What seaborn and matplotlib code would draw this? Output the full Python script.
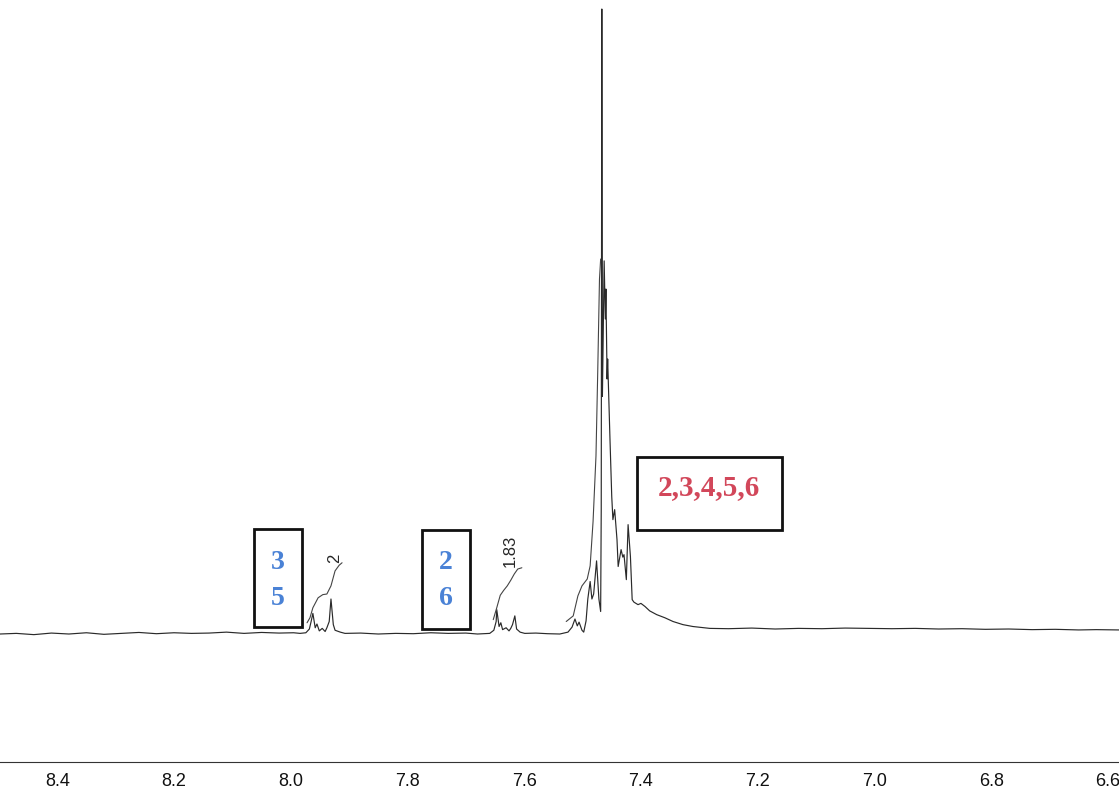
import matplotlib.pyplot as plt
import matplotlib.patches as patches
import seaborn as sns
import pandas as pd

# 1H NMR trace (ppm, relative intensity, tallest line = 100)
ppm = [8.498, 8.47, 8.44, 8.41, 8.38, 8.35, 8.32, 8.29, 8.26, 8.23, 8.20, 8.17,
       8.14, 8.11, 8.08, 8.05, 8.02, 7.995, 7.984, 7.974, 7.968, 7.965, 7.962,
       7.958, 7.955, 7.951, 7.946, 7.941, 7.938, 7.934, 7.931, 7.927, 7.924,
       7.915, 7.907, 7.88, 7.85, 7.82, 7.79, 7.76, 7.73, 7.70, 7.68, 7.659,
       7.652, 7.648, 7.647, 7.643, 7.640, 7.637, 7.631, 7.626, 7.623, 7.620,
       7.616, 7.613, 7.607, 7.599, 7.58, 7.56, 7.539, 7.525, 7.518, 7.513,
       7.509, 7.506, 7.501, 7.498, 7.494, 7.491, 7.487, 7.484, 7.481, 7.476,
       7.472, 7.469, 7.468, 7.467, 7.466, 7.465, 7.463, 7.461, 7.460, 7.458,
       7.457, 7.453, 7.450, 7.448, 7.445, 7.441, 7.439, 7.434, 7.431, 7.429,
       7.425, 7.422, 7.418, 7.415, 7.412, 7.405, 7.400, 7.393, 7.385, 7.373,
       7.359, 7.345, 7.328, 7.311, 7.282, 7.25, 7.21, 7.17, 7.13, 7.09, 7.05,
       7.01, 6.97, 6.93, 6.89, 6.85, 6.81, 6.77, 6.73, 6.69, 6.65, 6.62, 6.581]
intensity = [0.0, 0.1, -0.1, 0.15, 0.0, 0.2, -0.05, 0.1, 0.25, 0.05, 0.2, 0.1,
             0.15, 0.3, 0.1, 0.25, 0.15, 0.2, 0.1, 0.2, 0.8, 2.0, 3.3,
             1.0, 1.6, 0.5, 0.9, 0.4, 1.0, 2.0, 5.6, 1.5, 0.6,
             0.3, 0.1, 0.15, 0.0, 0.1, 0.05, 0.2, 0.1, 0.15, 0.0, 0.1,
             0.6, 2.0, 3.9, 1.2, 1.8, 0.7, 1.0, 0.5, 0.9, 1.5,
             2.9, 0.8, 0.3, 0.1, 0.15, 0.05, 0.0, 0.3, 1.1, 2.4,
             1.3, 1.9, 0.6, 0.3, 2.1, 5.6, 8.4, 5.6, 6.4, 11.7,
             5.6, 3.6, 20.0, 100.0, 38.0, 45.0, 59.7, 50.4, 55.2, 40.8,
             44.0, 31.1, 22.0, 18.3, 19.9, 15.1, 10.8, 13.5, 12.3, 12.7,
             8.7, 17.5, 12.4, 5.5, 5.1, 4.7, 4.9, 4.4, 3.7, 3.1,
             2.6, 2.0, 1.5, 1.2, 0.9, 0.85, 0.95, 0.8, 0.9, 0.85, 0.95,
             0.9, 0.85, 0.9, 0.8, 0.85, 0.75, 0.8, 0.7, 0.75, 0.65, 0.7, 0.65]

# integral curves
int1_ppm = [7.972, 7.967, 7.962, 7.953, 7.945, 7.938, 7.931, 7.924, 7.917, 7.912]
int1_val = [1.8, 2.6, 4.2, 5.8, 6.3, 6.4, 7.7, 10.1, 11.0, 11.4]
int2_ppm = [7.653, 7.647, 7.641, 7.635, 7.629, 7.623, 7.617, 7.611, 7.604]
int2_val = [2.3, 4.2, 6.2, 7.0, 7.7, 8.6, 9.6, 10.4, 10.6]
int3_ppm = [7.528, 7.516, 7.508, 7.501, 7.492, 7.487, 7.482, 7.477, 7.474, 7.471, 7.469]
int3_val = [2.0, 2.9, 6.1, 7.7, 8.8, 10.9, 18.0, 28.5, 42.0, 56.8, 60.0]

int_labels = ['2', '1.83']
box_labels = ['3\n5', '2\n6', '2,3,4,5,6']
ticks = [8.4, 8.2, 8.0, 7.8, 7.6, 7.4, 7.2, 7.0, 6.8, 6.6]

spec = pd.DataFrame({'ppm': ppm, 'intensity': intensity})

sns.set_style('white')
fig = plt.figure(figsize=(11.19, 8.03), dpi=100)
ax = fig.add_axes([0, 0.0498, 1, 0.9502])

sns.lineplot(data=spec, x='ppm', y='intensity', estimator=None, sort=True,
             color='#2a2a2a', linewidth=0.85, ax=ax)
for xs, ys in [(int1_ppm, int1_val), (int2_ppm, int2_val), (int3_ppm, int3_val)]:
    sns.lineplot(x=xs, y=ys, estimator=None, sort=False, color='#444444',
                 linewidth=0.8, ax=ax)

ax.set_xlim(8.498, 6.581)
ax.set_ylim(-20.48, 101.6)
ax.set_xlabel('')
ax.set_ylabel('')
ax.set_yticks([])
ax.set_xticks(ticks)
ax.set_xticklabels([f'{t:.1f}' for t in ticks], family='Liberation Sans', fontsize=13)
ax.set_xticks([8.48 - 0.02 * i for i in range(95)], minor=True)
ax.tick_params(axis='x', which='major', direction='out', length=4, width=0.8,
               colors='#333333', pad=3)
ax.tick_params(axis='x', which='minor', direction='out', length=2, width=0.6,
               colors='#555555')
ax.tick_params(axis='x', labelcolor='#111111')
for side in ['top', 'left', 'right']:
    ax.spines[side].set_visible(False)
ax.spines['bottom'].set_color('#333333')
ax.spines['bottom'].set_linewidth(0.8)

# integral values
ax.text(7.924, 11.5, int_labels[0], rotation=90, fontsize=12,
        family='Liberation Sans', ha='center', va='bottom')
ax.text(7.624, 10.9, int_labels[1], rotation=90, fontsize=12,
        family='Liberation Sans', ha='center', va='bottom')

# assignment boxes
boxes = [(7.980, 1.1, 0.083, 15.7), (7.693, 0.8, 0.082, 15.8), (7.159, 16.6, 0.248, 11.7)]
for x0, y0, w, h in boxes:
    ax.add_patch(patches.Rectangle((x0, y0), w, h, fill=False, edgecolor='#111111',
                                   linewidth=2.0))
ax.text(8.0215, 8.7, box_labels[0], color='#4a82d6', fontsize=20, fontweight='bold',
        family='Liberation Serif', ha='center', va='center', linespacing=1.6)
ax.text(7.734, 8.7, box_labels[1], color='#4a82d6', fontsize=20, fontweight='bold',
        family='Liberation Serif', ha='center', va='center', linespacing=1.6)
ax.text(7.283, 23.6, box_labels[2], color='#d2475a', fontsize=21, fontweight='bold',
        family='Liberation Serif', ha='center', va='center')

fig.savefig('out.png', dpi=100)
